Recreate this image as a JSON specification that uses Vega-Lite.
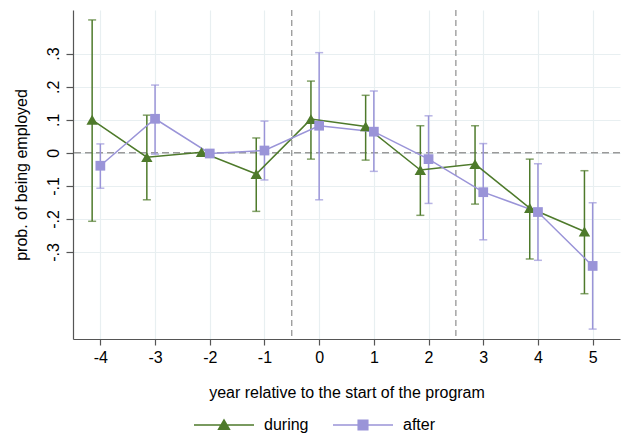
{
  "$schema": "https://vega.github.io/schema/vega-lite/v6.json",
  "width": 547,
  "height": 329,
  "autosize": {"type": "none"},
  "padding": {"left": 73, "top": 10, "right": 1, "bottom": 96},
  "background": "white",
  "config": {
    "view": {"stroke": null},
    "font": "Liberation Sans",
    "axis": {
      "domainColor": "#555555",
      "tickColor": "#555555",
      "labelColor": "#000000",
      "titleColor": "#000000",
      "labelFont": "Liberation Sans",
      "titleFont": "Liberation Sans",
      "labelFontSize": 16,
      "titleFontSize": 16,
      "titleFontWeight": "normal",
      "gridColor": "#e8eff1",
      "gridWidth": 1.2,
      "domainWidth": 1.2,
      "tickWidth": 1.2
    }
  },
  "data": {
    "values": [
      {"year": -4, "series": "during", "est": 0.100, "lo": -0.207, "hi": 0.402},
      {"year": -3, "series": "during", "est": -0.013, "lo": -0.142, "hi": 0.114},
      {"year": -2, "series": "during", "est": 0.002, "lo": null, "hi": null},
      {"year": -1, "series": "during", "est": -0.064, "lo": -0.177, "hi": 0.045},
      {"year": 0, "series": "during", "est": 0.102, "lo": -0.019, "hi": 0.217},
      {"year": 1, "series": "during", "est": 0.080, "lo": -0.022, "hi": 0.174},
      {"year": 2, "series": "during", "est": -0.052, "lo": -0.189, "hi": 0.082},
      {"year": 3, "series": "during", "est": -0.034, "lo": -0.155, "hi": 0.082},
      {"year": 4, "series": "during", "est": -0.167, "lo": -0.321, "hi": -0.019},
      {"year": 5, "series": "during", "est": -0.238, "lo": -0.426, "hi": -0.054},
      {"year": -4, "series": "after", "est": -0.039, "lo": -0.107, "hi": 0.027},
      {"year": -3, "series": "after", "est": 0.103, "lo": -0.004, "hi": 0.205},
      {"year": -2, "series": "after", "est": -0.002, "lo": null, "hi": null},
      {"year": -1, "series": "after", "est": 0.007, "lo": -0.082, "hi": 0.096},
      {"year": 0, "series": "after", "est": 0.082, "lo": -0.142, "hi": 0.303},
      {"year": 1, "series": "after", "est": 0.064, "lo": -0.056, "hi": 0.187},
      {"year": 2, "series": "after", "est": -0.019, "lo": -0.153, "hi": 0.112},
      {"year": 3, "series": "after", "est": -0.119, "lo": -0.263, "hi": 0.028},
      {"year": 4, "series": "after", "est": -0.179, "lo": -0.325, "hi": -0.033},
      {"year": 5, "series": "after", "est": -0.342, "lo": -0.533, "hi": -0.151}
    ]
  },
  "transform": [
    {"calculate": "datum.series === 'during' ? datum.year - 0.15 : datum.year", "as": "xpos"}
  ],
  "layer": [
    {
      "data": {"values": [{"line": "zero"}]},
      "mark": {"type": "rule", "color": "#9a9a9a", "strokeWidth": 1.5, "strokeDash": [7, 4]},
      "encoding": {"y": {"datum": 0}}
    },
    {
      "data": {"values": [{"line": "start"}]},
      "mark": {"type": "rule", "color": "#777777", "strokeWidth": 1, "strokeDash": [6, 4]},
      "encoding": {"x": {"datum": -0.5}}
    },
    {
      "data": {"values": [{"line": "end"}]},
      "mark": {"type": "rule", "color": "#777777", "strokeWidth": 1, "strokeDash": [6, 4]},
      "encoding": {"x": {"datum": 2.5}}
    },
    {
      "transform": [{"filter": "datum.lo != null"}],
      "mark": {"type": "rule", "strokeWidth": 1.5},
      "encoding": {
        "x": {"field": "xpos", "type": "quantitative", "scale": {"domain": [-4.5, 5.5], "nice": false, "zero": false},
              "axis": {"values": [-4, -3, -2, -1, 0, 1, 2, 3, 4, 5], "tickSize": 6, "labelPadding": 4, "titlePadding": 19, "grid": true,
                       "labelExpr": "(datum.value < 0 ? '-' : '') + abs(datum.value)"},
              "title": "year relative to the start of the program"},
        "y": {"field": "lo", "type": "quantitative", "scale": {"domain": [-0.563, 0.432], "nice": false, "zero": false},
              "axis": {"values": [-0.3, -0.2, -0.1, 0, 0.1, 0.2, 0.3], "tickSize": 7, "labelPadding": 5, "labelAngle": 270, "titlePadding": 16, "grid": true,
                       "labelExpr": "datum.value == 0 ? '0' : (datum.value < 0 ? '-' : '') + '.' + round(abs(datum.value) * 10)"},
              "title": "prob. of being employed"},
        "y2": {"field": "hi"},
        "color": {"field": "series", "type": "nominal", "scale": {"domain": ["during", "after"], "range": ["#4e7a2b", "#9a94d8"]}}
      }
    },
    {
      "transform": [{"filter": "datum.lo != null"}],
      "mark": {"type": "tick", "orient": "horizontal", "size": 8, "thickness": 1.5},
      "encoding": {
        "x": {"field": "xpos", "type": "quantitative", "title": "year relative to the start of the program"},
        "y": {"field": "lo", "type": "quantitative", "title": "prob. of being employed"},
        "color": {"field": "series", "type": "nominal"}
      }
    },
    {
      "transform": [{"filter": "datum.hi != null"}],
      "mark": {"type": "tick", "orient": "horizontal", "size": 8, "thickness": 1.5},
      "encoding": {
        "x": {"field": "xpos", "type": "quantitative", "title": "year relative to the start of the program"},
        "y": {"field": "hi", "type": "quantitative", "title": "prob. of being employed"},
        "color": {"field": "series", "type": "nominal"}
      }
    },
    {
      "mark": {"type": "line", "strokeWidth": 1.5},
      "encoding": {
        "x": {"field": "xpos", "type": "quantitative", "title": "year relative to the start of the program"},
        "y": {"field": "est", "type": "quantitative", "title": "prob. of being employed"},
        "color": {"field": "series", "type": "nominal",
                  "legend": {
                    "orient": "none", "direction": "horizontal", "legendX": 120, "legendY": 384,
                    "title": null, "padding": 0, "symbolSize": 3600, "labelOffset": 9, "columnPadding": 21,
                    "labelFontSize": 16, "labelFont": "Liberation Sans", "labelColor": "#000000",
                    "encode": {
                      "symbols": {
                        "update": {
                          "shape": {"signal": "datum.value === 'during' ? 'M-1,0L1,0M-0.18,0.14L0.18,0.14L0,-0.17Z' : 'M-1,0L1,0M-0.16,-0.16L0.16,-0.16L0.16,0.16L-0.16,0.16Z'"},
                          "fill": {"signal": "scale('color', datum.value)"},
                          "stroke": {"signal": "scale('color', datum.value)"},
                          "strokeWidth": {"value": 1.5},
                          "opacity": {"value": 1},
                          "fillOpacity": {"value": 1}
                        }
                      }
                    }
                  }}
      }
    },
    {
      "transform": [{"filter": "datum.series === 'during'"}],
      "mark": {"type": "point", "shape": "triangle-up", "filled": true, "opacity": 1, "size": 130},
      "encoding": {
        "x": {"field": "xpos", "type": "quantitative", "title": "year relative to the start of the program"},
        "y": {"field": "est", "type": "quantitative", "title": "prob. of being employed"},
        "color": {"field": "series", "type": "nominal"}
      }
    },
    {
      "transform": [{"filter": "datum.series === 'after'"}],
      "mark": {"type": "point", "shape": "square", "filled": true, "opacity": 1, "size": 95},
      "encoding": {
        "x": {"field": "xpos", "type": "quantitative", "title": "year relative to the start of the program"},
        "y": {"field": "est", "type": "quantitative", "title": "prob. of being employed"},
        "color": {"field": "series", "type": "nominal"}
      }
    }
  ]
}
